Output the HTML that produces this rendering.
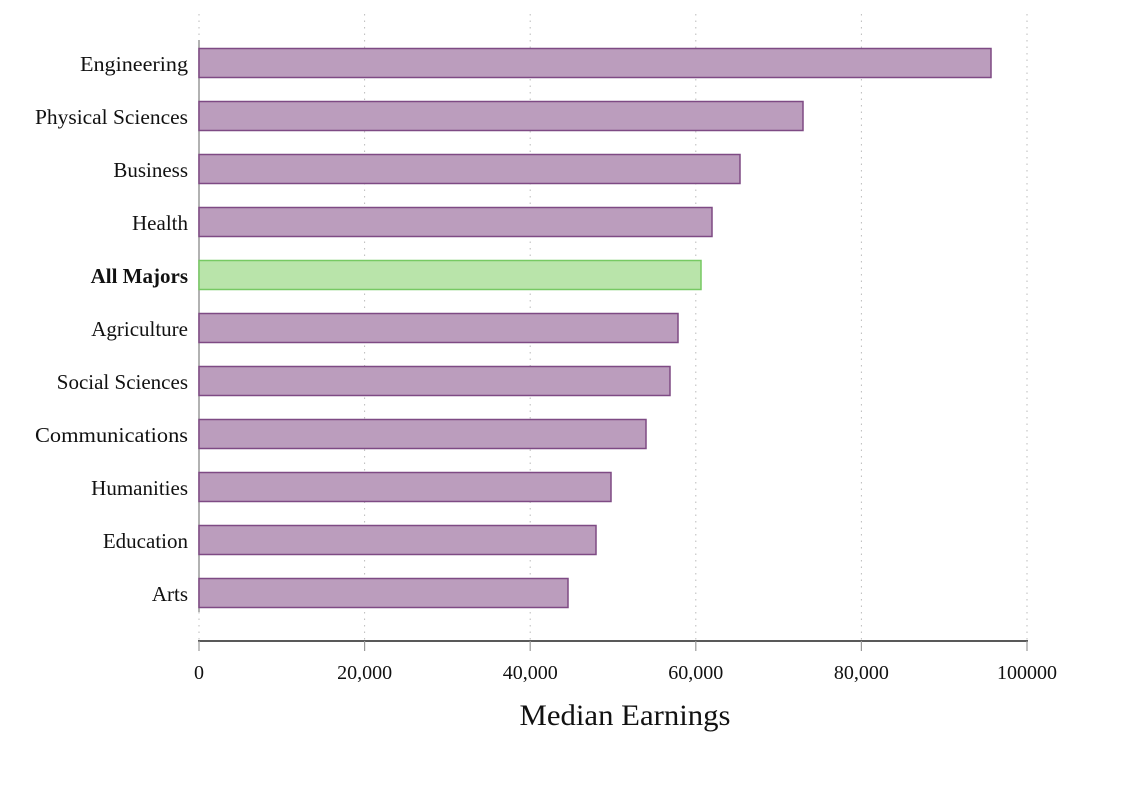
<!DOCTYPE html>
<html><head><style>
body{margin:0;background:#fff;}
svg{display:block;}
text{font-family:"Liberation Serif",serif;fill:#111;}
</style></head><body>
<svg width="1141" height="790" viewBox="0 0 1141 790">
<g stroke="#bbb" stroke-width="1" stroke-dasharray="1.5,5">
<line x1="199" y1="14" x2="199" y2="640"/>
<line x1="364.6" y1="14" x2="364.6" y2="640"/>
<line x1="530.2" y1="14" x2="530.2" y2="640"/>
<line x1="695.8" y1="14" x2="695.8" y2="640"/>
<line x1="861.4" y1="14" x2="861.4" y2="640"/>
<line x1="1027" y1="14" x2="1027" y2="640"/>
</g>
<line x1="199" y1="40" x2="199" y2="612" stroke="#999" stroke-width="1.5"/>
<g fill="#bb9dbd" stroke="#7e4a84" stroke-width="1.5">
<rect x="199" y="48.5" width="792" height="29"/>
<rect x="199" y="101.5" width="604" height="29"/>
<rect x="199" y="154.5" width="541" height="29"/>
<rect x="199" y="207.5" width="513" height="29"/>
<rect x="199" y="313.5" width="479" height="29"/>
<rect x="199" y="366.5" width="471" height="29"/>
<rect x="199" y="419.5" width="447" height="29"/>
<rect x="199" y="472.5" width="412" height="29"/>
<rect x="199" y="525.5" width="397" height="29"/>
<rect x="199" y="578.5" width="369" height="29"/>
</g>
<rect x="199" y="260.5" width="502" height="29" fill="#b9e4aa" stroke="#77c963" stroke-width="1.5"/>
<g font-size="21" text-anchor="end">
<text x="188" y="71" textLength="108" lengthAdjust="spacingAndGlyphs">Engineering</text>
<text x="188" y="124" textLength="153" lengthAdjust="spacingAndGlyphs">Physical Sciences</text>
<text x="188" y="177">Business</text>
<text x="188" y="230">Health</text>
<text x="188" y="283" font-weight="bold">All Majors</text>
<text x="188" y="336">Agriculture</text>
<text x="188" y="389">Social Sciences</text>
<text x="188" y="442" textLength="153" lengthAdjust="spacingAndGlyphs">Communications</text>
<text x="188" y="495">Humanities</text>
<text x="188" y="548">Education</text>
<text x="188" y="601">Arts</text>
</g>
<line x1="198" y1="641" x2="1028" y2="641" stroke="#222" stroke-width="1.5"/>
<g stroke="#999" stroke-width="1.2">
<line x1="199" y1="641" x2="199" y2="651"/>
<line x1="364.6" y1="641" x2="364.6" y2="651"/>
<line x1="530.2" y1="641" x2="530.2" y2="651"/>
<line x1="695.8" y1="641" x2="695.8" y2="651"/>
<line x1="861.4" y1="641" x2="861.4" y2="651"/>
<line x1="1027" y1="641" x2="1027" y2="651"/>
</g>
<g font-size="20" text-anchor="middle">
<text x="199" y="679">0</text>
<text x="364.6" y="679">20,000</text>
<text x="530.2" y="679">40,000</text>
<text x="695.8" y="679">60,000</text>
<text x="861.4" y="679">80,000</text>
<text x="1027" y="679">100000</text>
</g>
<text x="625" y="725" font-size="30" text-anchor="middle" textLength="211" lengthAdjust="spacingAndGlyphs">Median Earnings</text>
</svg>
</body></html>
